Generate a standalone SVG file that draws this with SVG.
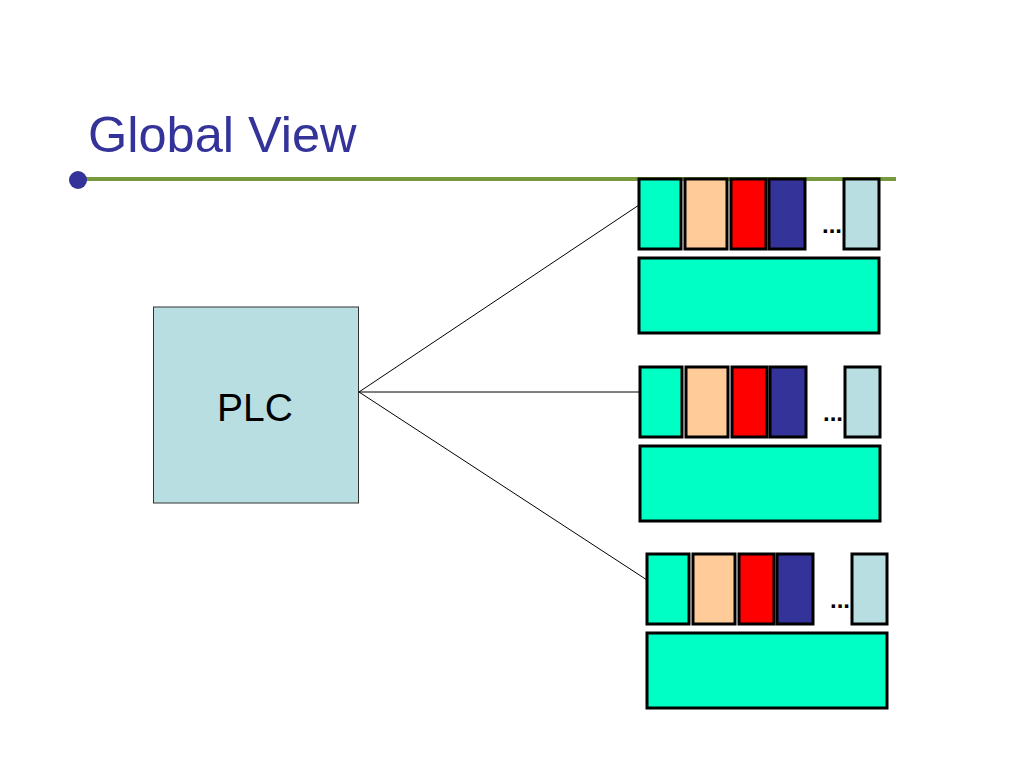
<svg xmlns="http://www.w3.org/2000/svg" width="1024" height="768" viewBox="0 0 1024 768">
<style>
.c{stroke:#000;stroke-width:3}
.t{fill:#00FFC4}.p{fill:#FFCC99}.r{fill:#FF0000}.b{fill:#333399}.l{fill:#B8DEE2}
.dots{font-family:"Liberation Sans",Arial,sans-serif;font-size:24px;font-weight:bold;fill:#000}
.conn{stroke:#000;stroke-width:1;fill:none}
</style>
<defs>
<g id="stack">
<text class="dots" x="822" y="233">...</text>
<rect class="c t" x="639" y="179" width="42" height="70"/>
<rect class="c p" x="685" y="179" width="42" height="70"/>
<rect class="c r" x="731" y="179" width="35" height="70"/>
<rect class="c b" x="769" y="179" width="36" height="70"/>
<rect class="c l" x="844" y="179" width="35" height="70"/>
<rect class="c t" x="639" y="258" width="240" height="75"/>
</g>
</defs>
<rect width="1024" height="768" fill="#fff"/>
<g id="title">
<text x="88" y="152" font-family="Liberation Sans,Arial,sans-serif" font-size="50.5" fill="#333399">Global View</text>
<line x1="78" y1="179" x2="896" y2="179" stroke="#77993D" stroke-width="4"/>
<circle cx="78" cy="180" r="9" fill="#333399"/>
</g>
<g id="plc">
<rect x="153.5" y="307" width="205" height="196" fill="#B8DEE2" stroke="#333" stroke-width="1"/>
<text x="255" y="421" text-anchor="middle" font-family="Liberation Sans,Arial,sans-serif" font-size="39" fill="#000">PLC</text>
</g>
<g id="connectors">
<line class="conn" x1="359" y1="392" x2="639" y2="205"/>
<line class="conn" x1="359" y1="392" x2="639" y2="392"/>
<line class="conn" x1="359" y1="392" x2="647" y2="580"/>
</g>
<g id="device1"><use href="#stack"/></g>
<g id="device2"><use href="#stack" transform="translate(1,188)"/></g>
<g id="device3"><use href="#stack" transform="translate(8,375)"/></g>
</svg>
